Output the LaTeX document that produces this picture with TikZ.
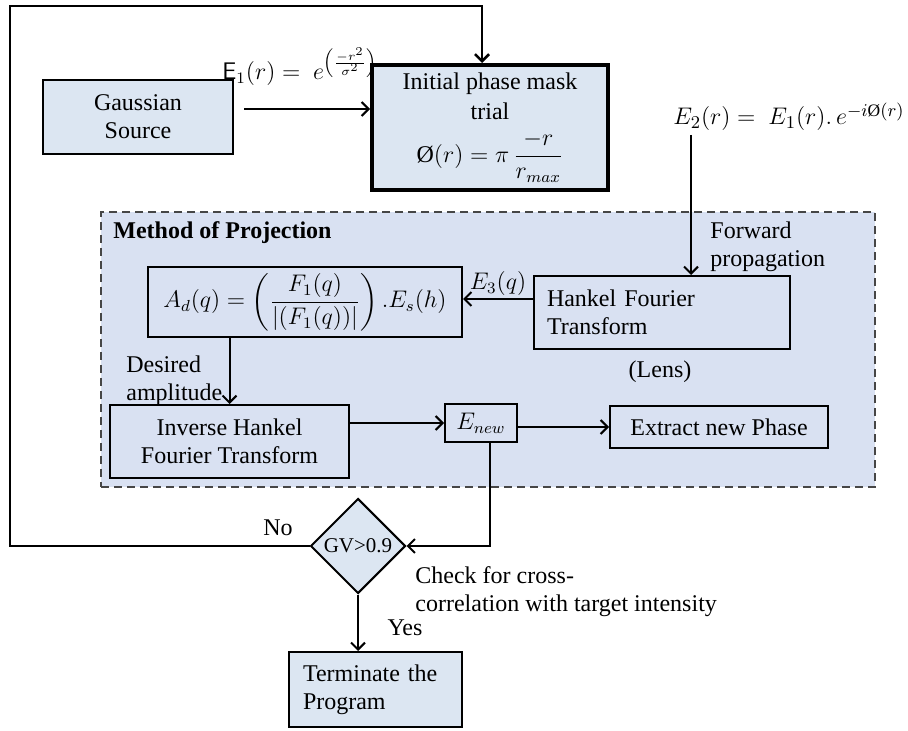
\documentclass[tikz,border=0pt]{standalone}
\usepackage{amsmath}
\usepackage{fontspec}
\setmainfont{Liberation Serif}
\usetikzlibrary{arrows.meta,shapes.geometric}
\definecolor{boxblue}{RGB}{220,230,242}
\definecolor{regblue}{RGB}{217,225,242}
\definecolor{dashgray}{RGB}{70,70,70}
\begin{document}
\begin{tikzpicture}[x=0.5pt,y=-0.5pt, font=\fontsize{12}{14}\selectfont,
  box/.style={draw, line width=1pt, inner sep=0pt, align=center},
  arr/.style={-{Straight Barb[length=3.5pt,width=7pt]}, line width=1pt},
  lab/.style={inner sep=0pt, align=left}]
\useasboundingbox (0,0) rectangle (908,731);
\fill[white] (0,0) rectangle (908,731);

% dashed region
\node[draw=dashgray, fill=regblue, line width=0.8pt, dash pattern=on 4pt off 2.5pt,
      minimum width=387pt, minimum height=137.5pt, inner sep=0pt] (region) at (488,349.5) {};

% boxes
\node[box, fill=boxblue, minimum width=95pt, minimum height=37pt] (gauss) at (138,117) {Gaussian\\Source};
\node[box, fill=boxblue, line width=2pt, minimum width=118pt, minimum height=62.5pt] (init) at (490,127.5)
  {Initial phase mask\\[1pt]trial\\[5pt] $\displaystyle \text{Ø}(r) = \pi\,\frac{-r}{r_{max}}$};
\node[box, minimum width=157pt, minimum height=35pt] (ad) at (305,302)
  {$\displaystyle A_d(q) = \left(\frac{F_1(q)}{|(F_1(q))|}\right).E_s(h)$};
\node[box, minimum width=128pt, minimum height=36.5pt, text width=115pt, inner xsep=6.5pt, align=left] (hank) at (662,312.5)
  {Hankel Fourier\\Transform};
\node[box, minimum width=119.5pt, minimum height=36.5pt] (ih) at (229.5,441.5) {Inverse Hankel\\Fourier Transform};
\node[box, minimum width=36pt, minimum height=19pt] (enew) at (481,423) {$E_{new}$};
\node[box, minimum width=109pt, minimum height=21pt] (extract) at (719,427) {Extract new Phase};
\node[draw, line width=1pt, fill=boxblue, diamond, aspect=1, minimum width=47.5pt, minimum height=47.5pt,
      inner sep=0pt, font=\fontsize{10.5}{12}\selectfont] (dia) at (358,546) {GV>0.9};
\node[box, fill=boxblue, minimum width=86.5pt, minimum height=37.5pt, text width=72.5pt, inner xsep=7pt, align=left] (term) at (375.5,689.5)
  {Terminate the\\Program};

% labels
\node[lab, anchor=base west] (e1lab) at (222,80) {$\mathsf{E}_1(r) =\ e^{\left(\frac{-r^2}{\sigma^2}\right)}$};
\node[lab, anchor=base west, font=\fontsize{12.5}{14}\selectfont] (e2lab) at (673,125) {$E_2(r) =\ E_1(r).\,e^{-i\text{Ø}(r)}$};
\node[lab, anchor=base west, font=\bfseries\fontsize{12}{14}\selectfont] (mop) at (113,239) {Method of Projection};
\node[lab, anchor=west] (fwd) at (710,247) {Forward\\propagation};
\node[lab] (lens) at (660,372) {(Lens)};
\node[lab, anchor=west] (des) at (126,381) {Desired\\amplitude};
\node[lab] (no) at (278,528) {No};
\node[lab] (yes) at (405,628) {Yes};
\node[lab, anchor=west] (chk) at (415,592) {Check for cross-\\correlation with target intensity};

% connectors
\coordinate (g1) at ([xshift=5pt,yshift=4pt]gauss.east);
\draw[arr] (g1) -- (g1 -| init.west);
\coordinate (top) at (10,6);
\draw[arr, line width=1.3pt] (dia.west) -| (top) -| ([xshift=-4pt]init.north);
\coordinate (e2s) at (691,135);
\draw[arr] (e2s) -- (e2s |- hank.north);
\coordinate (h3) at ([yshift=6.75pt]hank.west);
\draw[arr] (h3) -- node[above, inner sep=1pt]{$E_3(q)$} (h3 -| ad.east);
\draw[arr] (ad.south -| ih.north) -- (ih.north);
\draw[arr] (ih.east |- enew.west) -- (enew.west);
\coordinate (en2) at ([yshift=-2pt]enew.east);
\draw[arr] (en2) -- (en2 -| extract.west);
\draw[arr] ([xshift=4.5pt]enew.south) |- (dia.east);
\draw[arr] (dia.south) -- (dia.south |- term.north);
\end{tikzpicture}
\end{document}
